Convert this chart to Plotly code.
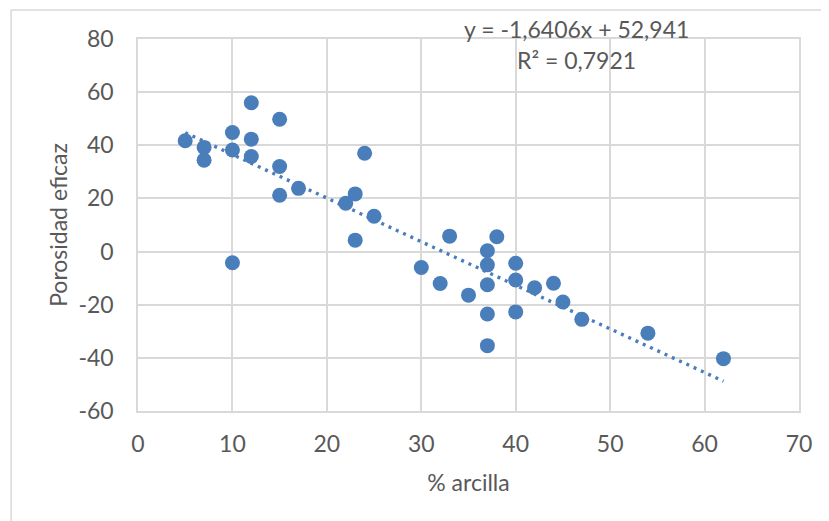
import plotly.graph_objects as go

arcilla = [5, 7, 7, 10, 10, 10, 12, 12, 12, 15, 15, 15, 17, 22, 23, 23, 24, 25,
           30, 32, 33, 35, 37, 37, 37, 37, 37, 38, 40, 40, 40, 42, 44, 45, 47,
           54, 62]
porosidad = [41.7, 39.2, 34.4, 44.8, 38.2, -4.2, 56.0, 42.3, 35.8, 49.8, 32.0, 21.2,
             23.8, 18.2, 21.7, 4.3, 37.0, 13.3,
             -6.0, -12.0, 5.8, -16.4, 0.3, -5.0, -12.5, -23.5, -35.4, 5.6,
             -4.4, -10.7, -22.7, -13.6, -11.9, -19.0, -25.5,
             -30.7, -40.3]

x_ticks = [0, 10, 20, 30, 40, 50, 60, 70]
x_labels = ["0", "10", "20", "30", "40", "50", "60", "70"]
y_ticks = [-60, -40, -20, 0, 20, 40, 60, 80]
y_labels = ["-60", "-40", "-20", "0", "20", "40", "60", "80"]

slope = -1.6406
intercept = 52.941
trend_x = [min(arcilla), max(arcilla)]
trend_y = [slope * v + intercept for v in trend_x]

eq_text = "y = -1,6406x + 52,941"
r2_text = "R² = 0,7921"

blue = "#4A7EBB"
grid = "#D9D9D9"
txt = "#595959"
font_family = "Lato, 'Open Sans', sans-serif"
fs = 23

fig = go.Figure()
fig.add_trace(go.Scatter(x=trend_x, y=trend_y, mode="lines",
                         line=dict(color=blue, width=3.4, dash="3px,5px"),
                         hoverinfo="skip", showlegend=False))
fig.add_trace(go.Scatter(x=arcilla, y=porosidad, mode="markers",
                         marker=dict(color=blue, size=15, line=dict(width=0)),
                         showlegend=False))

fig.update_xaxes(range=[0, 70], tickvals=x_ticks, ticktext=x_labels, automargin=False,
                 showgrid=True, gridcolor=grid, gridwidth=1.5,
                 zeroline=False, showline=True, linecolor=grid, linewidth=1.5, mirror=True,
                 tickfont=dict(size=fs, color=txt, family=font_family),
                 ticklabelstandoff=12,
                 title=dict(text="% arcilla", font=dict(size=fs, color=txt, family=font_family),
                            standoff=19))
fig.update_yaxes(range=[-60, 80], tickvals=y_ticks, ticktext=y_labels, automargin=False,
                 showgrid=True, gridcolor=grid, gridwidth=1.5,
                 zeroline=False, showline=True, linecolor=grid, linewidth=1.5, mirror=True,
                 tickfont=dict(size=fs, color=txt, family=font_family),
                 ticklabelstandoff=18,
                 title=dict(text="Porosidad eficaz", font=dict(size=fs, color=txt, family=font_family),
                            standoff=4))

fig.add_annotation(x=0.664, y=1.027, xref="paper", yref="paper", text=eq_text, showarrow=False,
                   xanchor="center", yanchor="middle",
                   font=dict(size=fs, color=txt, family=font_family))
fig.add_annotation(x=0.664, y=0.944, xref="paper", yref="paper", text=r2_text, showarrow=False,
                   xanchor="center", yanchor="middle",
                   font=dict(size=fs, color=txt, family=font_family))

fig.add_shape(type="rect", xref="paper", yref="paper", x0=-0.192, x1=1.2, y0=-0.5, y1=1.078,
              line=dict(color=grid, width=1.5), fillcolor="rgba(0,0,0,0)", layer="below")

fig.update_layout(width=821, height=513, paper_bgcolor="white", plot_bgcolor="white",
                  margin=dict(l=130, r=30, t=31, b=110),
                  font=dict(family=font_family, color=txt))

fig.write_html("out.html")
